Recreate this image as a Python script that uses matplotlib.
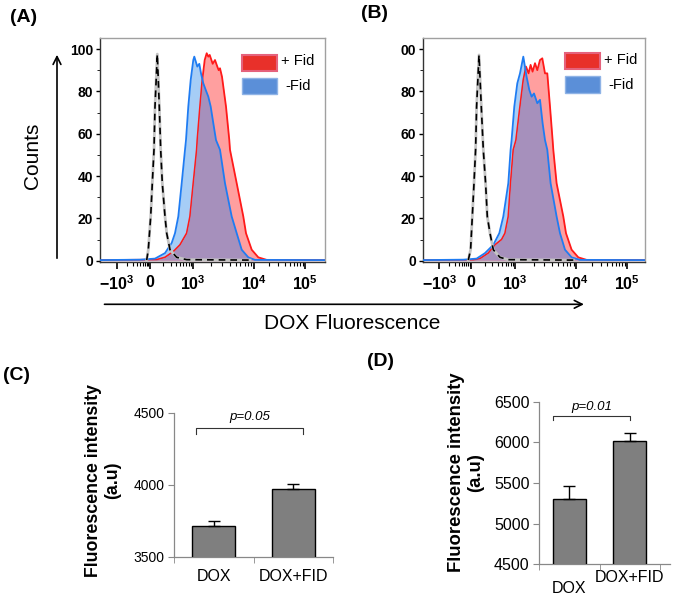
import numpy as np
import matplotlib
matplotlib.use('Agg')
import matplotlib.pyplot as plt
from matplotlib.patches import Rectangle, FancyArrowPatch

plt.rcParams['font.family'] = ['Liberation Sans', 'DejaVu Sans']
plt.rcParams['mathtext.fontset'] = 'custom'
plt.rcParams['mathtext.rm'] = 'Liberation Sans'
plt.rcParams['mathtext.bf'] = 'Liberation Sans:bold'

W, H = 675, 598

#### flow histograms (x = display channel, y = counts) ####
a_black_x = [46.7, 48.3, 50.7, 52.3, 54.0, 55.0, 57.3, 59.3, 60.7, 62.3, 65.0, 66.7, 70.0, 76.7, 86.7, 150.0]
a_black_y = [0.3, 5.2, 20.9, 36.6, 52.4, 72.8, 97.6, 72.8, 52.4, 36.6, 20.9, 13.0, 5.2, 1.6, 0.5, 0.3]
a_blue_x = [0, 40, 55, 65, 71.7, 75, 78.3, 81.7, 85, 86, 88.3, 90.7, 93.3, 94.3, 97.3, 99.3, 101,
            103.3, 105.7, 108.3, 110.7, 113.3, 116, 120, 125, 128.3, 131.7, 136.7, 141.7, 148.3, 155, 225]
a_blue_y = [0.3, 0.5, 1.0, 3.6, 8.4, 13.0, 20.9, 36.6, 52.4, 57.0, 72.8, 85.4, 94.8, 96.4, 91.7, 93.0, 88.5,
            83.8, 80.7, 77.5, 72.8, 65.0, 57.0, 52.4, 36.6, 28.8, 20.9, 13.0, 5.2, 1.6, 0.4, 0.3]
a_red_x = [0, 56.7, 65, 73.3, 80, 86.7, 90, 93.3, 96.7, 97.3, 100, 102.3, 104.7, 106.7, 108.3, 109.7,
           112.7, 115, 117.3, 118.7, 120, 122, 126, 129.3, 130, 136.7, 143.3, 146, 151.7, 158.3, 166.7, 225]
a_red_y = [0.3, 0.5, 1.6, 4.3, 7.5, 13.0, 20.9, 36.6, 52.4, 57.0, 72.8, 85.4, 94.8, 98.0, 96.4, 97.2,
           93.0, 94.8, 91.7, 90.0, 90.9, 86.9, 72.8, 57.0, 52.4, 36.6, 20.9, 13.0, 5.2, 1.6, 0.4, 0.3]

b_black_x = [45, 47.3, 49, 50.7, 52.3, 53.3, 55.7, 58, 60, 62.3, 64, 66.7, 70, 76.7, 85, 150]
b_black_y = [0.3, 5.2, 20.9, 36.6, 52.4, 72.8, 97.2, 72.8, 52.4, 36.6, 20.9, 13.0, 5.2, 1.6, 0.5, 0.3]
b_blue_x = [0, 40, 53.3, 61.7, 70, 76, 80, 85, 87.3, 88.3, 91, 94, 96.7, 100, 103.3, 106, 108.3,
            110.7, 114, 116.7, 119.3, 121.7, 124, 127.3, 133.3, 136.7, 141.7, 148.3, 156.7, 222]
b_blue_y = [0.3, 0.5, 1.0, 3.6, 7.5, 13.0, 20.9, 36.6, 52.4, 57.0, 72.8, 83.8, 88.5, 96.4, 86.9, 80.7, 77.5,
            79.0, 74.4, 76.0, 65.0, 57.0, 52.4, 36.6, 20.9, 13.0, 5.2, 1.6, 0.4, 0.3]
b_red_x = [0, 50, 56.7, 65, 71.7, 78.3, 81.7, 85, 87.3, 90, 92.7, 96.7, 100, 102.7, 105.3, 107.3, 109.3,
           111.7, 114, 116.7, 119, 121.7, 124, 126.7, 129.3, 130, 133.3, 140, 142.7, 148.3, 155, 163.3, 222]
b_red_y = [0.3, 0.4, 1.0, 3.6, 7.5, 10.0, 13.0, 20.9, 36.6, 52.4, 57.0, 72.8, 85.4, 91.7, 88.5, 92.5, 89.3,
           93.3, 90.0, 94.8, 95.6, 88.5, 88.5, 72.8, 57.0, 52.4, 36.6, 20.9, 13.0, 5.2, 1.6, 0.4, 0.3]

x_tick_labels = [r'$\mathbf{-10^3}$', r'$\mathbf{0}$', r'$\mathbf{10^3}$', r'$\mathbf{10^4}$', r'$\mathbf{10^5}$']
a_ticks = [17, 50, 93, 154, 205]
b_ticks = [16, 48, 92, 153, 204]
y_ticks = [0, 20, 40, 60, 80, 100]
a_ylabels = ['0', '20', '40', '60', '80', '100']
b_ylabels = ['0', '20', '40', '60', '80', '00']
legend_labels = ['+ Fid', '-Fid']

#### bar charts ####
groups = ['DOX', 'DOX+FID']
c_means = [3715, 3970]
c_err = [33, 33]
d_means = [5298, 6020]
d_err = [163, 90]
c_p = 'p=0.05'
d_p = 'p=0.01'


def box(l, t, r, b):
    return [l / W, 1 - b / H, (r - l) / W, (b - t) / H]


fig = plt.figure(figsize=(W / 100, H / 100), dpi=100)


def flow_panel(rect, xmax, ticks, ylabels, kx, ky, bx, by, rx, ry, leg):
    ax = fig.add_axes(rect)
    ax.set_xlim(0, xmax)
    ax.set_ylim(-0.6, 105.2)
    fb = ax.fill_between(bx, by, color='#a6cdf6', lw=0, zorder=1)
    ax.fill_between(rx, ry, color='#ff9f9f', lw=0, zorder=1)
    ax.plot(rx, ry, color='#ff1a1a', lw=1.3, zorder=2)
    ov = ax.fill_between(rx, ry, color='#9a8ec1', lw=0, zorder=3, alpha=0.88)
    ov.set_clip_path(fb.get_paths()[0], ax.transData)
    ax.plot(bx, by, color='#1f7cf2', lw=1.3, zorder=4)
    ax.plot(kx, ky, color='#c4c4c4', lw=2.0, zorder=5)
    ax.plot(kx, ky, color='black', lw=1.2, ls=(0, (4, 3)), zorder=6)

    for s in ax.spines.values():
        s.set_color('#a0a0a0')
        s.set_linewidth(1.0)
    ax.spines['bottom'].set_color('#333333')
    ax.spines['left'].set_color('#333333')

    ax.set_xticks(ticks)
    ax.set_xticklabels(x_tick_labels, fontsize=11.5)
    # minor ticks inside each interval
    mins = []
    for i in range(len(ticks) - 1):
        a, b = ticks[i], ticks[i + 1]
        for k in range(2, 10):
            mins.append(a + (b - a) * np.log10(k))
    ax.set_xticks(mins, minor=True)
    ax.set_yticks(y_ticks)
    ax.set_yticklabels(ylabels, fontsize=10, fontweight='bold')
    ax.set_yticks(range(0, 101, 10), minor=True)
    ax.tick_params(axis='x', which='major', length=5, width=1.2, pad=4, direction='out')
    ax.tick_params(axis='x', which='minor', length=3, width=0.8, direction='out')
    ax.tick_params(axis='y', which='major', length=3, width=1.0, pad=2)
    ax.tick_params(axis='y', which='minor', length=2, width=0.6)

    # legend boxes
    lx, ly_red, ly_blue, w, h, tx_red, tx_blue, ty_red, ty_blue = leg
    ax.add_patch(Rectangle((lx, ly_red), w, h, transform=ax.transAxes, facecolor='#e8302a',
                           edgecolor='#e5627c', lw=1.5, zorder=7))
    ax.add_patch(Rectangle((lx, ly_blue), w, h, transform=ax.transAxes, facecolor='#5b8fd8',
                           edgecolor='#8fb3e6', lw=1.0, zorder=7))
    ax.text(tx_red, ty_red, legend_labels[0], transform=ax.transAxes, fontsize=10.5, va='center')
    ax.text(tx_blue, ty_blue, legend_labels[1], transform=ax.transAxes, fontsize=10.5, va='center')
    return ax


flow_panel(box(100, 38, 325, 262), 225, a_ticks, a_ylabels, a_black_x, a_black_y,
           a_blue_x, a_blue_y, a_red_x, a_red_y,
           (0.63, 0.853, 0.749, 0.156, 0.073, 0.803, 0.822, 0.899, 0.786))
flow_panel(box(423.3, 38, 645.3, 262), 222, b_ticks, b_ylabels, b_black_x, b_black_y,
           b_blue_x, b_blue_y, b_red_x, b_red_y,
           (0.638, 0.86, 0.756, 0.158, 0.074, 0.814, 0.833, 0.902, 0.79))

# axis arrows and titles
fig.add_artist(FancyArrowPatch((57 / W, 1 - 261 / H), (57 / W, 1 - 52 / H),
               transform=fig.transFigure, arrowstyle='->', mutation_scale=14, lw=1.2, color='black'))
fig.add_artist(FancyArrowPatch((101.7 / W, 1 - 304.3 / H), (586.7 / W, 1 - 304.3 / H),
               transform=fig.transFigure, arrowstyle='->', mutation_scale=14, lw=1.2, color='black'))
fig.text(32.5 / W, 1 - 155.7 / H, 'Counts', rotation=90, fontsize=15, ha='center', va='center')
fig.text(351.7 / W, 1 - 323.3 / H, 'DOX Fluorescence', fontsize=15, ha='center', va='center')

fig.text(24 / W, 1 - 17.5 / H, '(A)', fontsize=14, fontweight='bold', ha='center', va='center')
fig.text(374 / W, 1 - 13.5 / H, '(B)', fontsize=14, fontweight='bold', ha='center', va='center')
fig.text(16 / W, 1 - 376 / H, '(C)', fontsize=14, fontweight='bold', ha='center', va='center')
fig.text(381 / W, 1 - 362 / H, '(D)', fontsize=14, fontweight='bold', ha='center', va='center')


def bar_panel(rect, means, err, ylim, yticks, xmax, ytick_fs, xtick_fs, pads,
              bracket, ptext):
    ax = fig.add_axes(rect)
    x = np.arange(len(groups))
    ax.bar(x, means, width=0.54, color='#7f7f7f', edgecolor='black', lw=1.0, zorder=2)
    ax.errorbar(x, means, yerr=[[0] * len(err), err], fmt='none', ecolor='black',
                elinewidth=1.0, capsize=4, capthick=1.0, zorder=3)
    ax.set_ylim(*ylim)
    ax.set_xlim(-0.5, xmax)
    ax.set_yticks(yticks)
    ax.set_yticklabels([str(v) for v in yticks], fontsize=ytick_fs)
    ax.set_xticks(x)
    ax.set_xticklabels(groups, fontsize=xtick_fs)
    ax.set_xticks([v for v in [-0.5, 0.5, 1.5] if v <= xmax], minor=True)
    ax.tick_params(axis='x', which='major', length=0)
    ax.tick_params(axis='x', which='minor', length=4, color='#888888', direction='out')
    ax.tick_params(axis='y', length=4, color='#888888', pad=3)
    for t, p in zip(ax.xaxis.get_major_ticks(), pads):
        t.set_pad(p)
    for s in ['top', 'right']:
        ax.spines[s].set_visible(False)
    for s in ['left', 'bottom']:
        ax.spines[s].set_color('#888888')
        ax.spines[s].set_linewidth(0.9)
        ax.spines[s].set_zorder(1)
    # significance bracket
    xl, xr, ytop, ybot, ty = bracket
    ax.plot([xl, xl, xr, xr], [ybot, ytop, ytop, ybot], color='#333333', lw=0.8, clip_on=False)
    ax.text((xl + xr) / 2, ty, ptext, fontsize=9.5, style='italic', ha='center', va='center')
    return ax


bar_panel(box(174, 412.7, 333, 556.7), c_means, c_err, (3500, 4500), [3500, 4000, 4500], 1.5,
          10, 11.5, [9, 9], (-0.22, 1.12, 4395, 4350, 4470), c_p)
bar_panel(box(539.3, 401.7, 670, 564.3), d_means, d_err, (4500, 6500), [4500, 5000, 5500, 6000, 6500], 1.67,
          11.5, 11.5, [12, 4], (-0.28, 1.01, 6330, 6275, 6440), d_p)

fig.text(103 / W, 1 - 480.7 / H, 'Fluorescence intensity\n(a.u)', rotation=90, fontsize=12.8,
         fontweight='bold', ha='center', va='center', multialignment='center', linespacing=1.2)
fig.text(466 / W, 1 - 472.4 / H, 'Fluorescence intensity\n(a.u)', rotation=90, fontsize=13.3,
         fontweight='bold', ha='center', va='center', multialignment='center', linespacing=1.15)

plt.savefig('out.png', dpi=100)
